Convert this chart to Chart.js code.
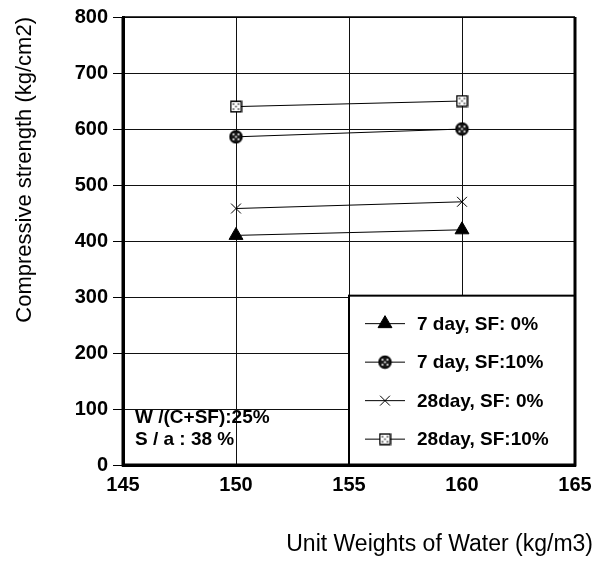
<!DOCTYPE html>
<html><head><meta charset="utf-8">
<script src="https://cdn.jsdelivr.net/npm/chart.js@4.4.1/dist/chart.umd.min.js"></script>
<style>html,body{margin:0;padding:0;background:#fff;} canvas{display:block;}</style>
</head><body>
<canvas id="c" width="603" height="564"></canvas>
<script>
// ---- data ----
const waterUnits = [150, 160];
const strength7dSF0 = [410, 420];
const strength7dSF10 = [586, 600];
const strength28dSF0 = [458, 470];
const strength28dSF10 = [640, 650];
const seriesLabels = ['7 day, SF: 0%', '7 day, SF:10%', '28day, SF: 0%', '28day, SF:10%'];
const xTickValues = [145, 150, 155, 160, 165];
const yTickValues = [0, 100, 200, 300, 400, 500, 600, 700, 800];
const xTitle = 'Unit Weights of Water (kg/m3)';
const yTitle = 'Compressive strength (kg/cm2)';
const noteLines = ['W /(C+SF):25%', 'S / a : 38 %'];

// ---- marker images ----
function makeCanvas(w, h, draw) { const c = document.createElement('canvas'); c.width = w; c.height = h; draw(c.getContext('2d'), w, h); return c; }
const hatchCircle = makeCanvas(15, 15, (g) => {
  g.beginPath(); g.arc(7.5, 7.5, 6, 0, Math.PI * 2); g.fillStyle = '#1a1a1a'; g.fill();
  g.lineWidth = 1.5; g.strokeStyle = '#000'; g.stroke();
  g.fillStyle = '#fff';
  [[5, 5], [10, 5], [5, 10], [10, 10], [7.5, 7.5]].forEach(([x, y]) => { g.beginPath(); g.arc(x, y, 1, 0, Math.PI * 2); g.fill(); });
});
const dotSquare = makeCanvas(13, 13, (g) => {
  g.fillStyle = '#fff'; g.fillRect(1, 1, 11, 11);
  g.strokeStyle = '#000'; g.lineWidth = 1.5; g.strokeRect(1.25, 1.25, 10.5, 10.5);
  g.fillStyle = '#444';
  [[4, 4], [9, 4], [4, 9], [9, 9], [6.5, 6.5]].forEach(([x, y]) => g.fillRect(x - 0.8, y - 0.8, 1.6, 1.6));
});

const seriesValues = [strength7dSF0, strength7dSF10, strength28dSF0, strength28dSF10];
const seriesStyles = [
  { pointStyle: 'triangle', pointRadius: 8, pointBorderWidth: 1 },
  { pointStyle: hatchCircle, pointRadius: 7, pointBorderWidth: 0 },
  { pointStyle: 'crossRot', pointRadius: 7, pointBorderWidth: 1 },
  { pointStyle: dotSquare, pointRadius: 7, pointBorderWidth: 0 }
];
const datasets = seriesValues.map((vals, i) => Object.assign({
  label: seriesLabels[i],
  data: waterUnits.map((x, j) => ({ x: x, y: vals[j] })),
  borderColor: '#000', borderWidth: 1, backgroundColor: '#000',
  pointBackgroundColor: '#000', pointBorderColor: '#000', fill: false, tension: 0
}, seriesStyles[i]));

const FONT = "'Liberation Sans', Arial, sans-serif";

const framePlugin = {
  id: 'frameAndLegend',
  afterDatasetsDraw(chart) {
    const ctx = chart.ctx, a = chart.chartArea;
    const W = a.right - a.left, H = a.bottom - a.top;
    // legend box
    const bx = a.left + W * 0.5, by = a.top + H * 0.622;
    ctx.save();
    ctx.fillStyle = '#fff'; ctx.fillRect(bx, by, a.right - bx, a.bottom - by);
    ctx.strokeStyle = '#000'; ctx.lineWidth = 2; ctx.strokeRect(bx, by, a.right - bx, a.bottom - by);
    chart.data.datasets.forEach((ds, i) => {
      const y = by + 28 + i * 38.5;
      ctx.strokeStyle = '#000'; ctx.lineWidth = 1;
      ctx.beginPath(); ctx.moveTo(bx + 16, y); ctx.lineTo(bx + 56, y); ctx.stroke();
      ctx.fillStyle = '#000'; ctx.strokeStyle = '#000';
      Chart.helpers.drawPoint(ctx, { pointStyle: ds.pointStyle, radius: ds.pointRadius, borderWidth: ds.pointBorderWidth, rotation: 0 }, bx + 36, y);
      ctx.fillStyle = '#000';
      ctx.font = 'bold 19px ' + FONT; ctx.textAlign = 'left'; ctx.textBaseline = 'middle';
      ctx.fillText(ds.label, bx + 68, y + 1);
    });
    // note text
    ctx.fillStyle = '#000'; ctx.font = 'bold 19px ' + FONT; ctx.textAlign = 'left'; ctx.textBaseline = 'middle';
    noteLines.forEach((t, i) => ctx.fillText(t, a.left + 12, a.bottom - 47 + i * 22));
    ctx.restore();
  },
  afterDraw(chart) {
    const ctx = chart.ctx, a = chart.chartArea;
    ctx.save();
    ctx.strokeStyle = '#000';
    ctx.lineWidth = 3;
    ctx.beginPath();
    ctx.moveTo(a.left, a.top); ctx.lineTo(a.left, a.bottom); ctx.lineTo(a.right, a.bottom); ctx.lineTo(a.right, a.top);
    ctx.stroke();
    ctx.lineWidth = 1.5;
    ctx.beginPath(); ctx.moveTo(a.left, a.top); ctx.lineTo(a.right, a.top); ctx.stroke();
    // x title
    ctx.fillStyle = '#000'; ctx.font = '23px ' + FONT; ctx.textAlign = 'right'; ctx.textBaseline = 'middle';
    ctx.fillText(xTitle, chart.width - 10, chart.height - 19);
    ctx.restore();
  }
};

new Chart(document.getElementById('c'), {
  type: 'line',
  data: { datasets: datasets },
  options: {
    responsive: false, animation: false, devicePixelRatio: 1,
    layout: { padding: { top: 15, right: 28, left: 0, bottom: 0 } },
    plugins: { legend: { display: false }, tooltip: { enabled: false } },
    scales: {
      x: {
        type: 'linear', min: xTickValues[0], max: xTickValues[xTickValues.length - 1],
        afterBuildTicks(s) { s.ticks = xTickValues.map(v => ({ value: v })); },
        ticks: { font: { family: FONT, size: 20, weight: 'bold' }, color: '#000', padding: 8 },
        grid: { color: '#111', lineWidth: 1, drawTicks: false },
        border: { color: '#000', width: 3 },
        afterFit(s) { s.height = 99; }
      },
      y: {
        type: 'linear', min: yTickValues[0], max: yTickValues[yTickValues.length - 1],
        afterBuildTicks(s) { s.ticks = yTickValues.map(v => ({ value: v })); },
        ticks: { font: { family: FONT, size: 20, weight: 'bold' }, color: '#000', padding: 5 },
        grid: { color: '#111', lineWidth: 1, tickColor: '#000', tickLength: 10, drawTicks: true },
        border: { color: '#000', width: 3 },
        title: { display: true, text: yTitle, align: 'end', color: '#000', font: { family: FONT, size: 22, weight: 'normal' }, padding: { top: 12, bottom: 0 } },
        afterFit(s) { s.width = 123; }
      }
    }
  },
  plugins: [framePlugin]
});
</script>
</body></html>
